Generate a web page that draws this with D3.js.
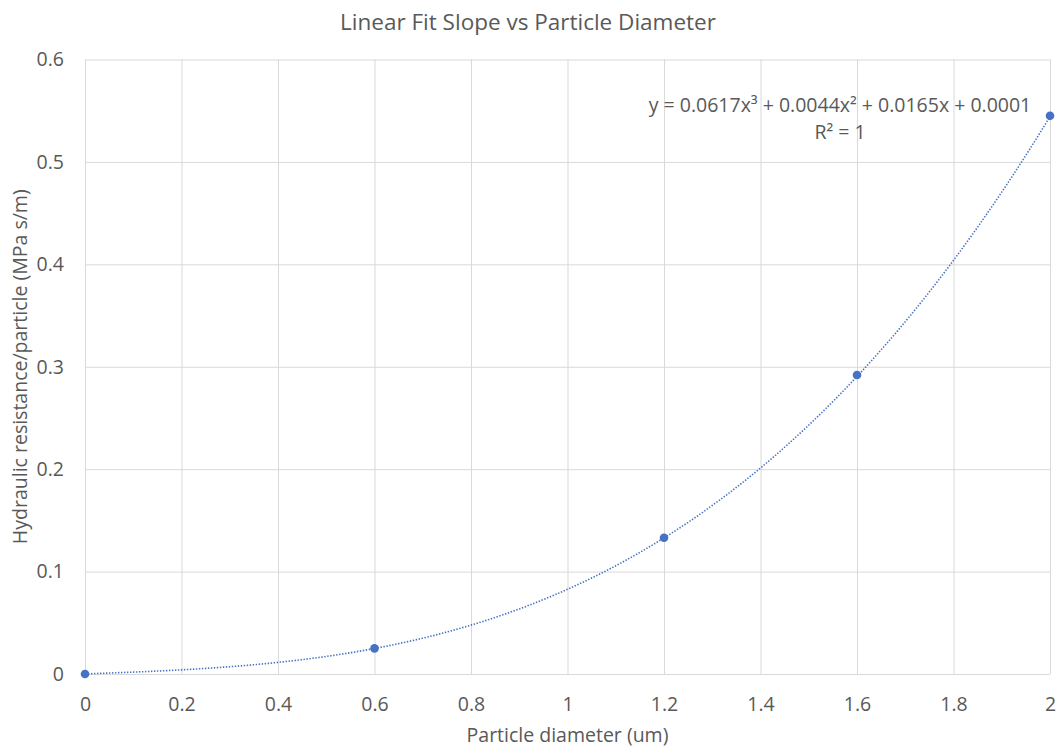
<!DOCTYPE html>
<html>
<head>
<meta charset="utf-8">
<script src="https://cdn.jsdelivr.net/npm/d3@7"></script>
<style>
  html, body { margin: 0; padding: 0; background: #fff; }
  svg { display: block; }
  text { font-family: "Open Sans", "Noto Sans", sans-serif; fill: #595959; }
</style>
</head>
<body>
<svg id="chart" width="1059" height="749"></svg>
<script>
// Measured points: particle diameter (um) vs hydraulic resistance per particle (MPa s/m)
const diameters = [0, 0.6, 1.2, 1.6, 2.0];
const resistances = [0.0, 0.025, 0.133, 0.292, 0.545];

// Cubic trendline coefficients, highest power first (as printed on the chart)
const trendCoeffs = [0.0617, 0.0044, 0.0165, 0.0001];

const xTicks = [0, 0.2, 0.4, 0.6, 0.8, 1, 1.2, 1.4, 1.6, 1.8, 2];
const yTicks = [0, 0.1, 0.2, 0.3, 0.4, 0.5, 0.6];

const svg = d3.select("#chart");
const margin = { left: 85, right: 1050, top: 59.5, bottom: 674 };

const x = d3.scaleLinear().domain([0, 2]).range([margin.left, margin.right]);
const y = d3.scaleLinear().domain([0, 0.6]).range([margin.bottom, margin.top]);

const gridColor = "#d9d9d9";

// Vertical grid
svg.append("g")
  .attr("transform", `translate(0,${margin.bottom})`)
  .call(d3.axisBottom(x).tickValues(xTicks).tickSize(-(margin.bottom - margin.top)).tickFormat(""))
  .call(g => g.select(".domain").remove())
  .call(g => g.selectAll("line").attr("stroke", gridColor).attr("stroke-width", 1));

// Horizontal grid
svg.append("g")
  .attr("transform", `translate(${margin.left},0)`)
  .call(d3.axisLeft(y).tickValues(yTicks).tickSize(-(margin.right - margin.left)).tickFormat(""))
  .call(g => g.select(".domain").remove())
  .call(g => g.selectAll("line").attr("stroke", gridColor).attr("stroke-width", 1));

// X tick labels
svg.append("g")
  .attr("transform", `translate(0,${margin.bottom})`)
  .call(d3.axisBottom(x).tickValues(xTicks).tickSize(0).tickPadding(23).tickFormat(d3.format("~g")))
  .call(g => g.select(".domain").remove())
  .call(g => g.selectAll("text").style("font-size", "19.5px").attr("fill", "#595959"));

// Y tick labels
svg.append("g")
  .attr("transform", `translate(${margin.left},0)`)
  .call(d3.axisLeft(y).tickValues(yTicks).tickSize(0).tickPadding(21).tickFormat(d3.format("~g")))
  .call(g => g.select(".domain").remove())
  .call(g => g.selectAll("text").style("font-size", "19.5px").attr("fill", "#595959"));

// Trendline from the polynomial
const poly = v => trendCoeffs.reduce((acc, c) => acc * v + c, 0);
const samples = d3.range(0, 2.0001, 0.01);
svg.append("path")
  .datum(samples)
  .attr("fill", "none")
  .attr("stroke", "#4472C4")
  .attr("stroke-width", 1.6)
  .attr("stroke-dasharray", "1.4 1.6")
  .attr("d", d3.line().x(d => x(d)).y(d => y(poly(d))));

// Data markers
svg.append("g")
  .selectAll("circle")
  .data(diameters.map((d, i) => [d, resistances[i]]))
  .join("circle")
  .attr("cx", d => x(d[0]))
  .attr("cy", d => y(d[1]))
  .attr("r", 4.3)
  .attr("fill", "#4472C4");

// Title
svg.append("text")
  .attr("x", 528).attr("y", 30)
  .attr("text-anchor", "middle")
  .style("font-size", "22.5px")
  .text("Linear Fit Slope vs Particle Diameter");

// Axis titles
svg.append("text")
  .attr("x", (margin.left + margin.right) / 2).attr("y", 742)
  .attr("text-anchor", "middle")
  .style("font-size", "19.5px")
  .text("Particle diameter (um)");

svg.append("text")
  .attr("transform", `translate(27,${(margin.top + margin.bottom) / 2}) rotate(-90)`)
  .attr("text-anchor", "middle")
  .style("font-size", "19.5px")
  .text("Hydraulic resistance/particle (MPa s/m)");

// Trendline equation
const eq = svg.append("g").attr("text-anchor", "middle").style("font-size", "19.5px");
eq.append("text").attr("x", 840).attr("y", 112)
  .text("y = 0.0617x³ + 0.0044x² + 0.0165x + 0.0001");
eq.append("text").attr("x", 840).attr("y", 139)
  .text("R² = 1");
</script>
</body>
</html>
